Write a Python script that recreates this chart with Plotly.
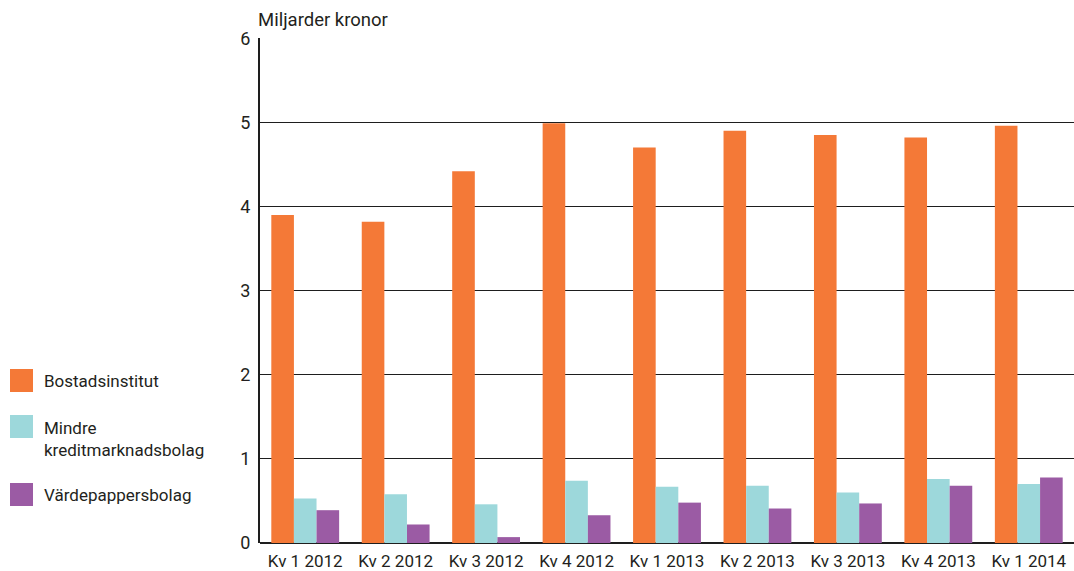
import plotly.graph_objects as go

categories = ["Kv 1 2012", "Kv 2 2012", "Kv 3 2012", "Kv 4 2012", "Kv 1 2013",
              "Kv 2 2013", "Kv 3 2013", "Kv 4 2013", "Kv 1 2014"]
bostadsinstitut = [3.90, 3.82, 4.42, 4.99, 4.70, 4.90, 4.85, 4.82, 4.96]
mindre = [0.53, 0.58, 0.46, 0.74, 0.67, 0.68, 0.60, 0.76, 0.70]
vardepapper = [0.39, 0.22, 0.07, 0.33, 0.48, 0.41, 0.47, 0.68, 0.78]
series_names = ["Bostadsinstitut", "Mindre<br>kreditmarknadsbolag", "Värdepappersbolag"]
y_ticks = [0, 1, 2, 3, 4, 5, 6]
colors = ["#F47937", "#9DD8DB", "#9B5BA4"]

W, H = 1074, 571
ML, MR, MT, MB = 260, 0, 38, 28
PW, PH = W - ML - MR, H - MT - MB

def px(x):
    return (x - ML) / PW

def py(y):
    return (H - MB - y) / PH

font_fam = "Roboto, Open Sans, sans-serif"
txt_col = "#231F20"

fig = go.Figure()
for vals, name, col in zip([bostadsinstitut, mindre, vardepapper], series_names, colors):
    fig.add_trace(go.Bar(x=categories, y=vals, name=name, marker_color=col,
                         marker_line_width=0, showlegend=False, hoverinfo="skip"))

fig.update_layout(
    width=W, height=H,
    margin=dict(l=ML, r=MR, t=MT, b=MB, autoexpand=False),
    paper_bgcolor="white", plot_bgcolor="white",
    barmode="group", bargap=0.25, bargroupgap=0,
    font=dict(family=font_fam, size=17, color=txt_col),
)
fig.update_xaxes(showgrid=False, showline=False, ticks="", tickfont=dict(size=17),
                 ticklabelstandoff=6)
fig.update_yaxes(range=[0, 6.003], tickvals=y_ticks, showgrid=True, gridcolor="#1E1E1E",
                 gridwidth=1.3, showline=True, linecolor="#1E1E1E", linewidth=2,
                 zeroline=True, zerolinecolor="#1E1E1E", zerolinewidth=2,
                 ticks="", ticklabelstandoff=4, tickfont=dict(size=18))

# y-axis title
fig.add_annotation(text="Miljarder kronor", xref="paper", yref="paper",
                   x=px(256), y=py(20), xanchor="left", yanchor="middle",
                   showarrow=False, font=dict(size=18.5, color=txt_col))

# manual legend
legend_y = [380.5, 426.5, 494.5]
text_y = [381, 439, 495]
for name, col, ly, ty in zip(series_names, colors, legend_y, text_y):
    fig.add_shape(type="rect", xref="paper", yref="paper",
                  x0=px(10), x1=px(33), y0=py(ly - 11.5), y1=py(ly + 11.5),
                  fillcolor=col, line_width=0)
    fig.add_annotation(text=name, xref="paper", yref="paper", x=px(42), y=py(ty),
                       xanchor="left", yanchor="middle", align="left",
                       showarrow=False, font=dict(size=17, color=txt_col))

fig.write_html("out.html", config={"displayModeBar": False},
               post_script="document.body.style.margin='0';")
